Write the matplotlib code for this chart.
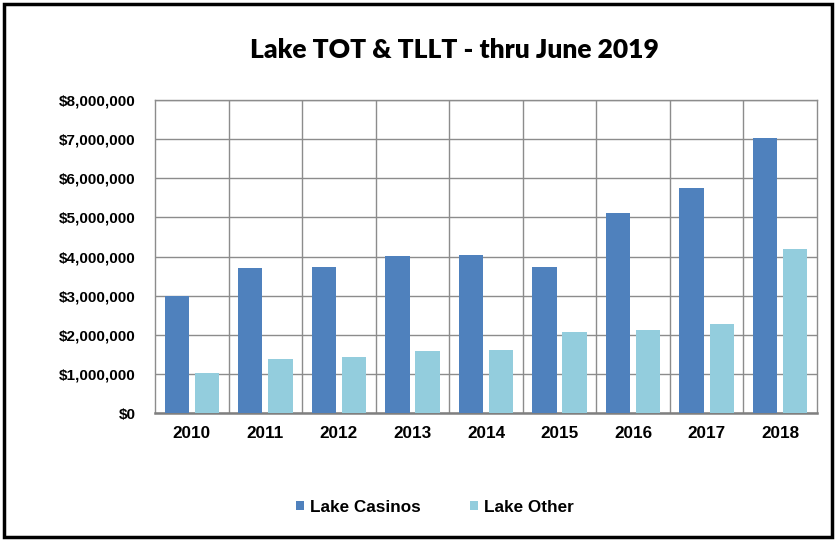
import numpy as np
import matplotlib.pyplot as plt
from matplotlib.patches import Rectangle
from matplotlib.ticker import FuncFormatter

# data
years = ['2010', '2011', '2012', '2013', '2014', '2015', '2016', '2017', '2018']
lake_casinos = [3000000, 3710000, 3740000, 4010000, 4040000, 3720000, 5120000, 5750000, 7030000]
lake_other = [1030000, 1390000, 1430000, 1590000, 1620000, 2080000, 2130000, 2280000, 4190000]

c_casino = '#4F81BD'
c_other = '#93CDDD'
grid_c = '#8C8C8C'

fig = plt.figure(figsize=(8.36, 5.4), dpi=100)
ax = fig.add_axes([155 / 836, 1 - 413 / 540, (817 - 155) / 836, (413 - 100) / 540])

x = np.arange(len(years))
w = 0.33
ax.bar(x - 0.205, lake_casinos, w, color=c_casino, label='Lake Casinos', zorder=3)
ax.bar(x + 0.205, lake_other, w, color=c_other, label='Lake Other', zorder=3)

ax.set_xlim(-0.5, len(years) - 0.5)
ax.set_ylim(0, 8000000)
ax.set_yticks(np.arange(0, 8000001, 1000000))
ax.yaxis.set_major_formatter(FuncFormatter(lambda v, p: f'${v:,.0f}'))
ax.set_xticks(x)
ax.set_xticklabels(years)

# category separators and horizontal grid
ax.set_xticks(np.arange(0.5, len(years) - 0.5, 1), minor=True)
ax.grid(axis='y', which='major', color=grid_c, linewidth=1.0, zorder=0)
ax.grid(axis='x', which='minor', color=grid_c, linewidth=1.0, zorder=0)
ax.tick_params(which='both', length=0)
ax.tick_params(axis='y', pad=14)
ax.tick_params(axis='x', pad=9)

for lab in ax.get_yticklabels():
    lab.set_fontfamily('Liberation Sans')
    lab.set_fontweight('bold')
    lab.set_fontsize(11)
for lab in ax.get_xticklabels():
    lab.set_fontfamily('Liberation Sans')
    lab.set_fontweight('bold')
    lab.set_fontsize(12.3)

for s in ['top', 'right', 'left']:
    ax.spines[s].set_color(grid_c)
    ax.spines[s].set_linewidth(1.0)
ax.spines['bottom'].set_color('#7F7F7F')
ax.spines['bottom'].set_linewidth(1.8)

fig.text(454 / 836, 1 - 50 / 540, 'Lake TOT & TLLT - thru June 2019',
         ha='center', va='center', fontsize=19, fontweight='heavy', family='Lato')

leg = fig.legend(loc='center', bbox_to_anchor=(435 / 836, 1 - 507 / 540), ncol=2,
                 frameon=False, handlelength=0.47, handleheight=0.47, handletextpad=0.35,
                 columnspacing=2.9, prop={'family': 'Liberation Sans', 'weight': 'bold', 'size': 12.3})

# outer chart frame
fig.patches.append(Rectangle((4 / 836, 3 / 540), 828 / 836, 533 / 540,
                             transform=fig.transFigure, fill=False,
                             edgecolor='black', linewidth=2.5))

fig.savefig('out.png', dpi=100)
